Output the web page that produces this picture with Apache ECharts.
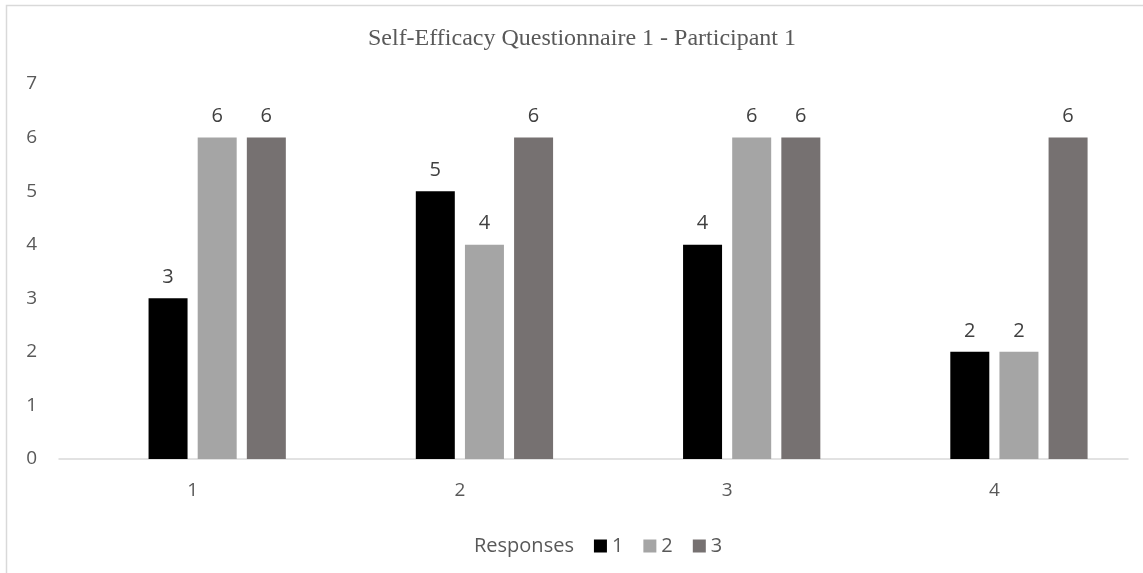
<!DOCTYPE html>
<html>
<head>
<meta charset="utf-8">
<style>
  html, body { margin: 0; padding: 0; background: #ffffff; }
  #chart { width: 1143px; height: 573px; }
</style>
<script src="https://cdn.jsdelivr.net/npm/echarts@6/dist/echarts.min.js"></script>
</head>
<body>
<div id="chart"></div>
<script>
// Questions on the x axis, one bar per response set
const categories = ['1', '2', '3', '4'];
const seriesNames = ['Responses', '1', '2', '3'];
const responses = [null, null, null, null];   // header entry, no bars
const response1 = [3, 5, 4, 2];
const response2 = [6, 4, 6, 2];
const response3 = [6, 6, 6, 6];
const yTicks = [0, 1, 2, 3, 4, 5, 6, 7];

const colors = ['#ffffff', '#000000', '#a5a5a5', '#767171'];
const textColor = '#595959';
const font = '"Open Sans", "Noto Sans", sans-serif';

const chart = echarts.init(document.getElementById('chart'));

const valueSets = [responses, response1, response2, response3];
const series = valueSets.map((vals, i) => ({
  name: seriesNames[i],
  type: 'bar',
  data: vals,
  barWidth: 39,
  barGap: '26%',
  itemStyle: { color: colors[i] },
  label: {
    show: i > 0,
    position: 'top',
    distance: 11,
    color: '#404040',
    fontSize: 20,
    fontFamily: font
  }
}));

chart.setOption({
  animation: false,
  title: {
    text: 'Self-Efficacy Questionnaire 1 - Participant 1',
    left: 577,
    textAlign: 'center',
    top: 22,
    textStyle: {
      fontFamily: '"Liberation Serif", "DejaVu Serif", serif',
      fontSize: 24,
      fontWeight: 'normal',
      color: textColor
    }
  },
  graphic: [{
    type: 'rect',
    shape: { x: 6.5, y: 5.5, width: 1200, height: 700 },
    style: { fill: 'none', stroke: '#d9d9d9', lineWidth: 1.5 },
    silent: true,
    z: -1
  }],
  legend: {
    left: 451,
    top: 531,
    itemWidth: 13,
    itemHeight: 13,
    itemGap: 20,
    textStyle: { fontFamily: font, fontSize: 20, color: textColor },
    data: [
      { name: 'Responses', icon: 'none' },
      { name: '1', icon: 'rect' },
      { name: '2', icon: 'rect' },
      { name: '3', icon: 'rect' }
    ]
  },
  grid: { left: 59, right: 15, top: 84, bottom: 114 },
  xAxis: {
    type: 'category',
    data: categories,
    axisLine: { lineStyle: { color: '#d9d9d9', width: 1.5 } },
    axisTick: { show: false },
    axisLabel: { margin: 22, fontSize: 19, fontFamily: font, color: textColor }
  },
  yAxis: {
    type: 'value',
    min: yTicks[0],
    max: yTicks[yTicks.length - 1],
    interval: 1,
    axisLine: { show: false },
    axisTick: { show: false },
    splitLine: { show: false },
    axisLabel: { margin: 22, fontSize: 19, fontFamily: font, color: textColor }
  },
  series: series
});
</script>
</body>
</html>
